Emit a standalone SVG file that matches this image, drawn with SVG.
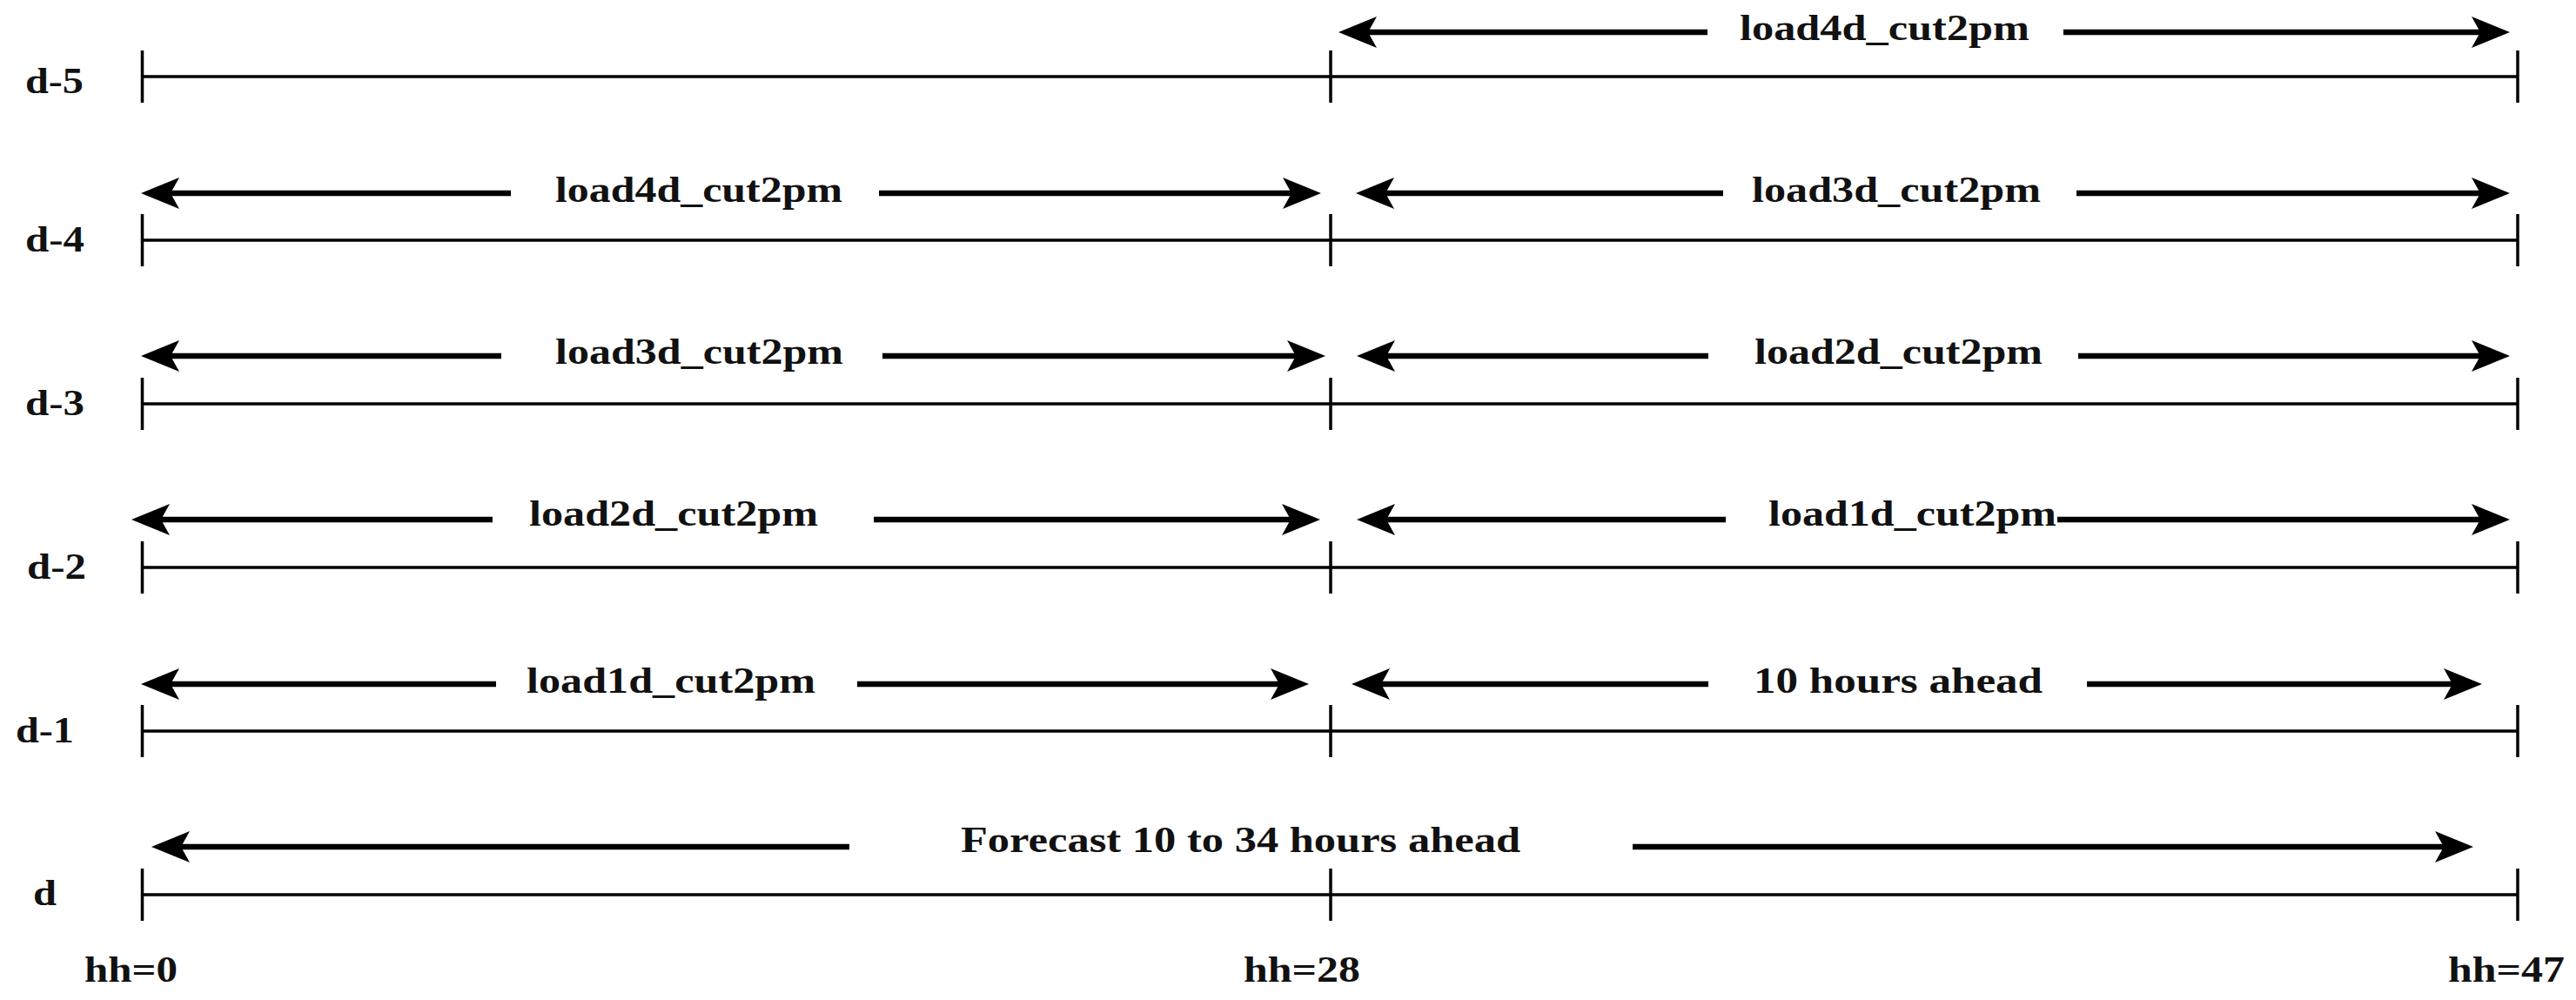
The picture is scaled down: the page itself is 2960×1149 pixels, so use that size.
<svg xmlns="http://www.w3.org/2000/svg" width="2960" height="1149" viewBox="0 0 2960 1149">
<style>
  .axis { stroke:#000; stroke-width:3.5; fill:none; }
  .arr { stroke:#000; stroke-width:6.5; fill:none; marker-end:url(#ah); }
  text { font-family:"Liberation Serif","Times New Roman",serif; font-weight:bold; font-size:42px; fill:#111; }
</style>
<defs>
  <marker id="ah" markerUnits="userSpaceOnUse" markerWidth="44" markerHeight="36" viewBox="0 0 44 36" refX="10" refY="18" orient="auto">
    <path d="M44,18 L0,0 L10,18 L0,36 Z" fill="#000"/>
  </marker>
</defs>
<rect width="2960" height="1149" fill="#fff"/>

<g id="row-d-5">
  <text x="29" y="107" textLength="67" lengthAdjust="spacingAndGlyphs">d-5</text>
  <path class="axis" d="M163.5,88 H2893 M163.5,58 V118 M1529,58 V118 M2893,58 V118"/>
  <text x="1999" y="46" textLength="333" lengthAdjust="spacingAndGlyphs">load4d_cut2pm</text>
</g>
<g id="row-d-4">
  <text x="29" y="289" textLength="68" lengthAdjust="spacingAndGlyphs">d-4</text>
  <path class="axis" d="M163.5,276 H2893 M163.5,246 V306 M1529,246 V306 M2893,246 V306"/>
  <text x="638" y="232" textLength="330" lengthAdjust="spacingAndGlyphs">load4d_cut2pm</text>
  <text x="2013" y="232" textLength="332" lengthAdjust="spacingAndGlyphs">load3d_cut2pm</text>
</g>
<g id="row-d-3">
  <text x="29" y="477" textLength="68" lengthAdjust="spacingAndGlyphs">d-3</text>
  <path class="axis" d="M163.5,464 H2893 M163.5,434 V494 M1529,434 V494 M2893,434 V494"/>
  <text x="638" y="418" textLength="331" lengthAdjust="spacingAndGlyphs">load3d_cut2pm</text>
  <text x="2016" y="418" textLength="331" lengthAdjust="spacingAndGlyphs">load2d_cut2pm</text>
</g>
<g id="row-d-2">
  <text x="31" y="665" textLength="68" lengthAdjust="spacingAndGlyphs">d-2</text>
  <path class="axis" d="M163.5,652 H2893 M163.5,622 V682 M1529,622 V682 M2893,622 V682"/>
  <text x="608" y="604" textLength="332" lengthAdjust="spacingAndGlyphs">load2d_cut2pm</text>
  <text x="2032" y="604" textLength="331" lengthAdjust="spacingAndGlyphs">load1d_cut2pm</text>
</g>
<g id="row-d-1">
  <text x="18" y="853" textLength="67" lengthAdjust="spacingAndGlyphs">d-1</text>
  <path class="axis" d="M163.5,840 H2893 M163.5,810 V870 M1529,810 V870 M2893,810 V870"/>
  <text x="605" y="796" textLength="332" lengthAdjust="spacingAndGlyphs">load1d_cut2pm</text>
  <text x="2015" y="796" textLength="332" lengthAdjust="spacingAndGlyphs">10 hours ahead</text>
</g>
<g id="row-d">
  <text x="38" y="1040" textLength="27" lengthAdjust="spacingAndGlyphs">d</text>
  <path class="axis" d="M163.5,1028 H2893 M163.5,998 V1058 M1529,998 V1058 M2893,998 V1058"/>
  <text x="1104" y="979" textLength="643" lengthAdjust="spacingAndGlyphs">Forecast 10 to 34 hours ahead</text>
</g>
<g id="hh-labels">
  <text x="97" y="1128" textLength="107" lengthAdjust="spacingAndGlyphs">hh=0</text>
  <text x="1429" y="1128" textLength="134" lengthAdjust="spacingAndGlyphs">hh=28</text>
  <text x="2813" y="1128" textLength="134" lengthAdjust="spacingAndGlyphs">hh=47</text>
</g>

<g id="connectors">
  <line class="arr" x1="1962" y1="37" x2="1572" y2="37"/>
  <line class="arr" x1="2371" y1="37" x2="2850" y2="37"/>

  <line class="arr" x1="587" y1="222" x2="196" y2="222"/>
  <line class="arr" x1="1010" y1="222" x2="1484" y2="222"/>
  <line class="arr" x1="1980" y1="222" x2="1592" y2="222"/>
  <line class="arr" x1="2386" y1="222" x2="2850" y2="222"/>

  <line class="arr" x1="576" y1="409" x2="196" y2="409"/>
  <line class="arr" x1="1014" y1="409" x2="1489" y2="409"/>
  <line class="arr" x1="1963" y1="409" x2="1593" y2="409"/>
  <line class="arr" x1="2388" y1="409" x2="2850" y2="409"/>

  <line class="arr" x1="566" y1="597" x2="185" y2="597"/>
  <line class="arr" x1="1004" y1="597" x2="1483" y2="597"/>
  <line class="arr" x1="1983" y1="597" x2="1593" y2="597"/>
  <line class="arr" x1="2364" y1="597" x2="2850" y2="597"/>

  <line class="arr" x1="570" y1="786" x2="196" y2="786"/>
  <line class="arr" x1="985" y1="786" x2="1470" y2="786"/>
  <line class="arr" x1="1963" y1="786" x2="1587" y2="786"/>
  <line class="arr" x1="2398" y1="786" x2="2818" y2="786"/>

  <line class="arr" x1="976" y1="973" x2="208" y2="973"/>
  <line class="arr" x1="1876" y1="973" x2="2808" y2="973"/>
</g>
</svg>
